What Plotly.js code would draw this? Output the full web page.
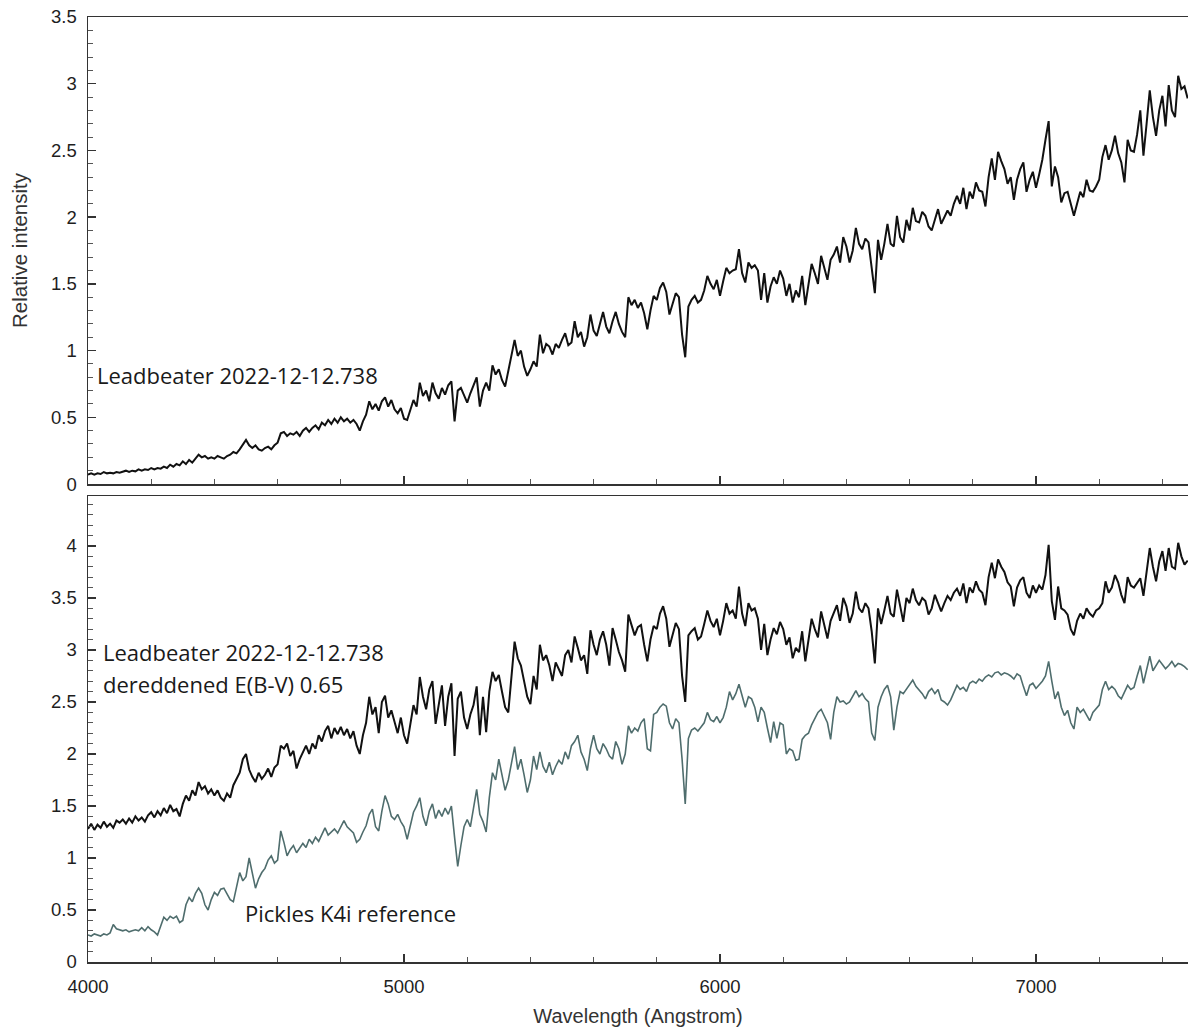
<!DOCTYPE html>
<html>
<head>
<meta charset="utf-8">
<script src="https://cdn.plot.ly/plotly-3.0.1.min.js"></script>
<style>
  html, body { margin: 0; padding: 0; background: #ffffff; }
  #chart { width: 1188px; height: 1027px; }
</style>
</head>
<body>
<div id="chart"></div>
<script>
// Spectra sampled every 10 Angstrom from 4000 to 7480 Angstrom
const lambdaStart = 4000;
const lambdaStep = 10;

// Observed spectrum (relative intensity)
const observed = [
  0.07,0.08,0.07,0.08,0.075,0.09,0.08,0.085,0.08,0.09,
  0.085,0.09,0.10,0.09,0.10,0.095,0.11,0.10,0.11,0.105,
  0.12,0.11,0.12,0.115,0.13,0.12,0.145,0.13,0.15,0.14,
  0.17,0.15,0.18,0.16,0.19,0.22,0.20,0.21,0.19,0.20,
  0.19,0.21,0.20,0.19,0.21,0.22,0.24,0.23,0.26,0.30,
  0.33,0.29,0.27,0.29,0.26,0.25,0.27,0.28,0.26,0.29,
  0.31,0.38,0.39,0.36,0.38,0.37,0.39,0.36,0.40,0.42,
  0.39,0.42,0.44,0.41,0.46,0.44,0.48,0.45,0.49,0.46,
  0.50,0.47,0.49,0.46,0.48,0.45,0.40,0.47,0.52,0.62,
  0.56,0.60,0.55,0.62,0.65,0.58,0.63,0.56,0.53,0.57,
  0.49,0.48,0.55,0.63,0.58,0.76,0.66,0.70,0.62,0.76,
  0.68,0.64,0.72,0.67,0.74,0.77,0.47,0.70,0.72,0.66,
  0.61,0.68,0.74,0.80,0.58,0.70,0.76,0.70,0.89,0.82,
  0.86,0.78,0.73,0.84,0.95,1.08,0.96,1.00,0.88,0.81,
  0.86,0.92,0.88,1.12,0.98,1.05,1.03,0.97,1.05,1.02,
  1.08,1.13,1.04,1.06,1.22,1.10,1.14,1.03,1.10,1.27,
  1.15,1.11,1.20,1.29,1.18,1.13,1.22,1.29,1.20,1.14,
  1.10,1.40,1.34,1.38,1.32,1.36,1.28,1.16,1.30,1.41,
  1.38,1.47,1.51,1.44,1.27,1.36,1.43,1.40,1.12,0.95,
  1.33,1.38,1.41,1.36,1.38,1.45,1.56,1.50,1.46,1.53,
  1.41,1.52,1.62,1.58,1.60,1.61,1.76,1.58,1.51,1.66,
  1.62,1.64,1.60,1.38,1.58,1.36,1.48,1.55,1.50,1.60,
  1.54,1.41,1.50,1.36,1.45,1.40,1.56,1.34,1.50,1.65,
  1.58,1.50,1.71,1.62,1.53,1.68,1.72,1.78,1.66,1.85,
  1.78,1.66,1.75,1.92,1.80,1.76,1.84,1.81,1.62,1.43,
  1.83,1.68,1.80,1.95,1.80,1.78,2.01,1.85,1.81,1.98,
  1.90,2.07,1.97,1.96,2.04,2.01,1.93,1.90,1.98,2.06,
  1.95,2.00,2.05,2.01,2.10,2.16,2.10,2.22,2.06,2.19,
  2.14,2.26,2.20,2.19,2.08,2.30,2.44,2.28,2.49,2.42,
  2.36,2.25,2.30,2.13,2.28,2.36,2.41,2.19,2.28,2.34,
  2.22,2.32,2.43,2.58,2.72,2.23,2.38,2.30,2.11,2.18,
  2.19,2.10,2.01,2.10,2.19,2.15,2.28,2.20,2.19,2.23,
  2.28,2.45,2.54,2.43,2.50,2.61,2.48,2.41,2.26,2.58,
  2.50,2.49,2.62,2.80,2.46,2.70,2.95,2.75,2.61,2.80,
  2.91,2.68,2.99,2.80,2.75,3.06,2.96,2.98,2.89
];

// Same spectrum corrected for reddening, E(B-V) = 0.65
const dereddened = [
  1.28,1.33,1.27,1.32,1.29,1.35,1.30,1.33,1.29,1.36,
  1.34,1.37,1.33,1.38,1.34,1.40,1.36,1.39,1.35,1.41,
  1.44,1.39,1.45,1.41,1.48,1.43,1.51,1.45,1.47,1.40,
  1.52,1.60,1.55,1.65,1.60,1.73,1.66,1.69,1.62,1.66,
  1.60,1.65,1.58,1.55,1.62,1.58,1.70,1.76,1.82,1.95,
  2.00,1.85,1.78,1.73,1.82,1.76,1.80,1.86,1.78,1.87,
  1.90,2.08,2.05,2.10,1.98,2.03,1.86,1.95,2.02,2.08,
  2.00,2.10,2.05,2.18,2.12,2.22,2.27,2.15,2.25,2.19,
  2.26,2.18,2.24,2.15,2.22,2.08,2.00,2.18,2.30,2.55,
  2.38,2.45,2.20,2.50,2.56,2.35,2.42,2.31,2.20,2.35,
  2.18,2.10,2.30,2.47,2.38,2.74,2.55,2.43,2.62,2.70,
  2.29,2.50,2.66,2.27,2.55,2.68,1.98,2.53,2.60,2.35,
  2.24,2.38,2.47,2.65,2.18,2.55,2.21,2.60,2.79,2.70,
  2.76,2.60,2.45,2.40,2.75,3.08,2.92,2.85,2.70,2.55,
  2.48,2.75,2.62,3.05,2.90,2.95,2.85,2.70,2.88,2.82,
  2.75,2.95,3.00,2.88,3.13,3.02,2.90,2.95,2.77,3.19,
  3.05,2.95,3.10,3.18,3.05,2.85,3.21,3.10,2.98,2.90,
  2.79,3.34,3.25,3.14,3.22,3.24,3.05,2.89,3.10,3.23,
  3.20,3.35,3.42,3.30,3.03,3.15,3.26,3.20,2.75,2.50,
  3.14,3.18,3.21,3.10,3.13,3.25,3.38,3.28,3.22,3.30,
  3.14,3.28,3.45,3.35,3.38,3.30,3.61,3.35,3.23,3.45,
  3.38,3.40,3.30,3.00,3.25,2.95,3.10,3.21,3.15,3.27,
  3.20,3.05,3.12,2.92,3.02,2.98,3.18,2.89,3.10,3.30,
  3.20,3.12,3.37,3.25,3.11,3.28,3.35,3.43,3.28,3.50,
  3.42,3.26,3.35,3.56,3.40,3.36,3.45,3.40,3.18,2.87,
  3.40,3.25,3.38,3.52,3.35,3.32,3.58,3.42,3.27,3.50,
  3.45,3.59,3.48,3.43,3.50,3.47,3.34,3.40,3.53,3.45,
  3.37,3.45,3.52,3.48,3.55,3.59,3.52,3.64,3.45,3.60,
  3.55,3.66,3.58,3.55,3.43,3.70,3.84,3.69,3.87,3.80,
  3.75,3.65,3.61,3.42,3.60,3.67,3.70,3.55,3.50,3.62,
  3.55,3.62,3.58,3.72,4.01,3.47,3.29,3.61,3.40,3.38,
  3.34,3.20,3.14,3.28,3.35,3.30,3.40,3.35,3.32,3.38,
  3.40,3.45,3.66,3.55,3.60,3.72,3.65,3.53,3.45,3.70,
  3.62,3.60,3.65,3.69,3.52,3.75,3.98,3.80,3.66,3.85,
  3.95,3.76,3.98,3.80,3.78,4.03,3.90,3.82,3.86
];

// Pickles K4 I library spectrum
const pickles = [
  0.26,0.25,0.27,0.26,0.25,0.27,0.26,0.28,0.36,0.32,
  0.31,0.30,0.31,0.29,0.30,0.31,0.30,0.33,0.30,0.34,
  0.31,0.29,0.26,0.35,0.43,0.40,0.44,0.42,0.44,0.38,
  0.40,0.55,0.62,0.58,0.66,0.71,0.66,0.55,0.50,0.60,
  0.67,0.64,0.70,0.71,0.65,0.60,0.58,0.72,0.86,0.78,
  0.82,1.00,0.85,0.71,0.80,0.86,0.90,0.98,1.02,0.95,
  0.98,1.26,1.15,1.02,1.08,1.12,1.05,1.10,1.14,1.10,
  1.18,1.14,1.20,1.16,1.22,1.29,1.22,1.25,1.28,1.24,
  1.30,1.36,1.30,1.27,1.24,1.15,1.18,1.25,1.31,1.42,
  1.47,1.30,1.26,1.45,1.60,1.52,1.40,1.37,1.42,1.35,
  1.30,1.18,1.30,1.44,1.50,1.58,1.40,1.31,1.45,1.52,
  1.38,1.46,1.40,1.48,1.42,1.50,1.20,0.92,1.12,1.30,
  1.37,1.30,1.48,1.66,1.42,1.35,1.25,1.58,1.82,1.75,
  1.95,1.80,1.65,1.75,1.90,2.07,1.85,1.95,1.80,1.63,
  1.75,1.98,1.85,2.02,1.88,1.82,1.92,1.80,1.88,1.94,
  1.90,2.02,1.95,2.08,2.12,2.18,2.02,1.95,1.84,2.05,
  2.18,2.05,2.00,2.10,2.05,1.98,1.95,2.12,2.05,1.90,
  2.00,2.27,2.20,2.25,2.22,2.30,2.34,2.05,2.03,2.38,
  2.40,2.45,2.48,2.46,2.30,2.24,2.34,2.30,1.95,1.52,
  2.15,2.23,2.25,2.22,2.26,2.30,2.40,2.33,2.31,2.36,
  2.30,2.35,2.45,2.60,2.52,2.58,2.67,2.55,2.45,2.55,
  2.53,2.45,2.31,2.45,2.40,2.25,2.11,2.31,2.15,2.30,
  2.28,2.00,2.05,2.03,1.94,1.95,2.14,2.18,2.20,2.28,
  2.34,2.40,2.43,2.36,2.30,2.14,2.40,2.55,2.50,2.51,
  2.48,2.50,2.55,2.61,2.55,2.58,2.53,2.50,2.20,2.13,
  2.45,2.55,2.62,2.66,2.55,2.23,2.45,2.60,2.58,2.62,
  2.66,2.71,2.65,2.62,2.58,2.53,2.60,2.63,2.58,2.62,
  2.52,2.50,2.47,2.52,2.60,2.66,2.62,2.64,2.60,2.68,
  2.70,2.68,2.72,2.70,2.74,2.76,2.74,2.78,2.79,2.76,
  2.78,2.77,2.75,2.72,2.77,2.75,2.65,2.56,2.66,2.68,
  2.63,2.66,2.70,2.75,2.89,2.70,2.53,2.60,2.45,2.37,
  2.42,2.30,2.24,2.45,2.40,2.43,2.38,2.32,2.40,2.44,
  2.47,2.62,2.70,2.62,2.65,2.62,2.56,2.53,2.60,2.66,
  2.62,2.64,2.75,2.85,2.68,2.80,2.94,2.80,2.85,2.90,
  2.86,2.82,2.85,2.89,2.84,2.87,2.86,2.84,2.81
];

// Wavelength grid shared by all three spectra
const wavelength = observed.map((_, i) => lambdaStart + i * lambdaStep);

const labelTop = 'Leadbeater 2022-12-12.738';
const labelBottom1 = 'Leadbeater 2022-12-12.738';
const labelBottom2 = 'dereddened E(B-V) 0.65';
const labelPickles = 'Pickles K4i reference';

const axisFont = { family: 'Liberation Sans, Arial, sans-serif', size: 18.5, color: '#1e1e1e' };
const noteFont = { family: 'Open Sans, Noto Sans, sans-serif', size: 22, color: '#1a1a1a' };

const traces = [
  { x: wavelength, y: observed, xaxis: 'x2', yaxis: 'y2', type: 'scatter', mode: 'lines',
    line: { color: '#111111', width: 2 }, showlegend: false },
  { x: wavelength, y: pickles, xaxis: 'x', yaxis: 'y', type: 'scatter', mode: 'lines',
    line: { color: '#4f6d6d', width: 1.6 }, showlegend: false },
  { x: wavelength, y: dereddened, xaxis: 'x', yaxis: 'y', type: 'scatter', mode: 'lines',
    line: { color: '#111111', width: 2 }, showlegend: false }
];

const xCommon = {
  range: [4000, 7481],
  showgrid: false, zeroline: false,
  showline: true, linecolor: '#333', linewidth: 1.5, mirror: true,
  ticks: 'inside', ticklen: 8, tickwidth: 1.5, tickcolor: '#333',
  tick0: 4000, dtick: 1000,
  minor: { ticks: 'inside', dtick: 200, ticklen: 5, tickwidth: 1, tickcolor: '#555', showgrid: false },
  tickfont: axisFont, ticklabelstandoff: 7
};

const yCommon = {
  showgrid: false, zeroline: false,
  showline: true, linecolor: '#333', linewidth: 1.5,
  ticks: 'inside', ticklen: 8, tickwidth: 1.5, tickcolor: '#333',
  tick0: 0, dtick: 0.5,
  minor: { ticks: 'inside', dtick: 0.1, ticklen: 5, tickwidth: 1, tickcolor: '#555', showgrid: false },
  tickfont: axisFont, ticklabelstandoff: 6
};

const layout = {
  width: 1188, height: 1027,
  margin: { l: 88, r: 0, t: 17, b: 65 },
  paper_bgcolor: '#ffffff', plot_bgcolor: '#ffffff',
  showlegend: false,
  xaxis: Object.assign({}, xCommon, {
    anchor: 'y',
    title: { text: 'Wavelength (Angstrom)', font: { family: 'Liberation Sans, Arial, sans-serif', size: 20, color: '#333' }, standoff: 13 }
  }),
  yaxis: Object.assign({}, yCommon, { domain: [0, 0.4931], range: [0, 4.48], anchor: 'x' }),
  xaxis2: Object.assign({}, xCommon, { anchor: 'y2', matches: 'x', showticklabels: false }),
  yaxis2: Object.assign({}, yCommon, {
    domain: [0.5058, 1], range: [0, 3.5], anchor: 'x2',
    title: { text: 'Relative intensity', font: { family: 'Liberation Sans, Arial, sans-serif', size: 20.5, color: '#333' }, standoff: 18 }
  }),
  annotations: [
    { x: 4022, y: 0.82, xref: 'x2', yref: 'y2', text: labelTop, showarrow: false,
      xanchor: 'left', yanchor: 'middle', font: noteFont },
    { x: 4040, y: 2.98, xref: 'x', yref: 'y', text: labelBottom1, showarrow: false,
      xanchor: 'left', yanchor: 'middle', font: noteFont },
    { x: 4040, y: 2.67, xref: 'x', yref: 'y', text: labelBottom2, showarrow: false,
      xanchor: 'left', yanchor: 'middle', font: noteFont },
    { x: 4490, y: 0.47, xref: 'x', yref: 'y', text: labelPickles, showarrow: false,
      xanchor: 'left', yanchor: 'middle', font: noteFont }
  ]
};

Plotly.newPlot('chart', traces, layout, { displayModeBar: false, staticPlot: true });
</script>
</body>
</html>
